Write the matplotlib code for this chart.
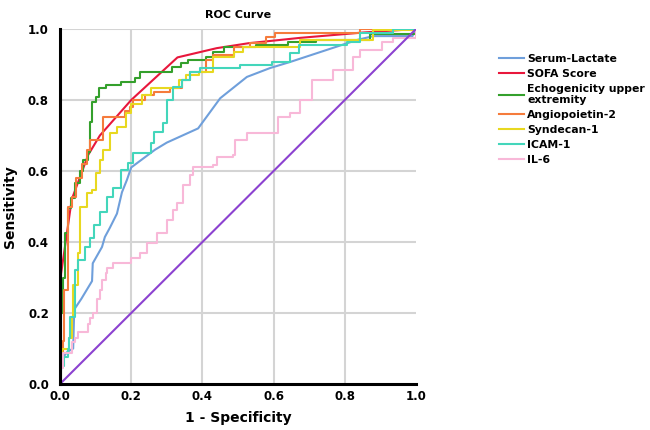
import matplotlib.pyplot as plt

# ROC curve vertices (1 - specificity, sensitivity)
lactate_x = [0, 0.005, 0.02, 0.037, 0.04, 0.06, 0.084, 0.09, 0.092, 0.118, 0.126, 0.14, 0.16,
             0.174, 0.188, 0.2, 0.267, 0.30, 0.388, 0.45, 0.525, 0.59, 0.646, 0.834, 0.88, 0.99, 1.0]
lactate_y = [0, 0.07, 0.09, 0.10, 0.21, 0.24, 0.28, 0.29, 0.34, 0.386, 0.414, 0.44, 0.48,
             0.54, 0.575, 0.61, 0.66, 0.68, 0.72, 0.805, 0.865, 0.89, 0.907, 0.969, 0.98, 0.98, 1.0]

sofa_x = [0, 0.003, 0.033, 0.079, 0.112, 0.2, 0.33, 0.44, 0.53, 0.674, 0.85, 1.0]
sofa_y = [0, 0.31, 0.52, 0.645, 0.70, 0.80, 0.92, 0.946, 0.96, 0.975, 0.99, 1.0]

echo_x = [0, 0.003, 0.008, 0.014, 0.022, 0.03, 0.042, 0.055, 0.065, 0.079, 0.084, 0.09, 0.1, 0.11,
          0.13, 0.17, 0.21, 0.225, 0.315, 0.34, 0.36, 0.41, 0.43, 0.46, 0.55, 0.64, 0.72, 0.87, 1.0]
echo_y = [0, 0.2, 0.3, 0.425, 0.496, 0.524, 0.566, 0.60, 0.63, 0.653, 0.738, 0.794, 0.808, 0.834,
          0.842, 0.85, 0.862, 0.879, 0.893, 0.905, 0.913, 0.92, 0.935, 0.95, 0.955, 0.963, 0.969, 0.985, 1.0]

ang_x = [0, 0.0, 0.008, 0.012, 0.023, 0.034, 0.045, 0.062, 0.076, 0.084, 0.121, 0.183, 0.197, 0.205,
         0.24, 0.265, 0.31, 0.343, 0.365, 0.41, 0.43, 0.49, 0.534, 0.58, 0.604, 0.843, 1.0]
ang_y = [0, 0.05, 0.12, 0.265, 0.5, 0.527, 0.58, 0.62, 0.66, 0.687, 0.752, 0.77, 0.78, 0.80,
         0.814, 0.823, 0.834, 0.856, 0.879, 0.913, 0.927, 0.95, 0.96, 0.977, 0.99, 1.0, 1.0]

synd_x = [0, 0.0, 0.005, 0.025, 0.034, 0.037, 0.05, 0.056, 0.076, 0.09, 0.1, 0.112, 0.121, 0.14,
          0.16, 0.185, 0.2, 0.23, 0.255, 0.335, 0.355, 0.39, 0.43, 0.49, 0.514, 0.674, 0.88, 1.0]
synd_y = [0, 0.076, 0.10, 0.13, 0.19, 0.28, 0.37, 0.5, 0.538, 0.547, 0.594, 0.63, 0.66, 0.707,
          0.724, 0.763, 0.79, 0.814, 0.834, 0.856, 0.87, 0.879, 0.921, 0.935, 0.95, 0.969, 0.997, 1.0]

icam_x = [0, 0.0, 0.01, 0.022, 0.026, 0.028, 0.042, 0.05, 0.07, 0.084, 0.095, 0.112, 0.132, 0.15,
          0.17, 0.19, 0.205, 0.255, 0.265, 0.29, 0.30, 0.317, 0.343, 0.365, 0.393, 0.505, 0.595,
          0.646, 0.67, 0.806, 0.843, 0.935, 1.0]
icam_y = [0, 0.05, 0.076, 0.10, 0.13, 0.19, 0.32, 0.35, 0.386, 0.41, 0.448, 0.485, 0.527, 0.552,
          0.603, 0.622, 0.65, 0.679, 0.71, 0.735, 0.80, 0.837, 0.856, 0.879, 0.89, 0.899, 0.907,
          0.932, 0.955, 0.963, 0.989, 1.0, 1.0]

il6_x = [0, 0.0, 0.008, 0.034, 0.042, 0.05, 0.079, 0.084, 0.093, 0.104, 0.112, 0.118, 0.128, 0.132,
         0.149, 0.2, 0.225, 0.244, 0.272, 0.3, 0.317, 0.33, 0.345, 0.365, 0.374, 0.43, 0.44, 0.486,
         0.492, 0.525, 0.612, 0.646, 0.674, 0.708, 0.767, 0.823, 0.843, 0.904, 0.935, 1.0]
il6_y = [0, 0.045, 0.087, 0.118, 0.13, 0.147, 0.17, 0.186, 0.2, 0.24, 0.265, 0.293, 0.313, 0.327,
         0.341, 0.355, 0.369, 0.397, 0.425, 0.462, 0.49, 0.51, 0.56, 0.589, 0.611, 0.617, 0.64, 0.645,
         0.687, 0.707, 0.752, 0.763, 0.80, 0.856, 0.885, 0.921, 0.94, 0.963, 0.975, 1.0]

ref_x = [0, 1]
ref_y = [0, 1]

ticks = [0.0, 0.2, 0.4, 0.6, 0.8, 1.0]

fig = plt.figure(figsize=(6.5, 4.3), dpi=100)
ax = fig.add_axes([60 / 650, 1 - 384 / 430, 356 / 650, 355 / 430])

for t in ticks[1:-1]:
    ax.axvline(t, color="#d4d4d4", lw=1.5, zorder=0)
for t in ticks[1:]:
    ax.axhline(t, color="#d4d4d4", lw=1.5, zorder=0)

lw = 1.5
ax.plot(lactate_x, lactate_y, color="#6f9fdb", lw=lw, label="Serum-Lactate")
ax.plot(sofa_x, sofa_y, color="#e8173c", lw=lw, label="SOFA Score")
ax.plot(echo_x, echo_y, color="#34a02c", lw=lw, drawstyle="steps-post",
        label="Echogenicity upper\nextremity")
ax.plot(ang_x, ang_y, color="#f57b3c", lw=lw, drawstyle="steps-post", label="Angiopoietin-2")
ax.plot(synd_x, synd_y, color="#e8d820", lw=lw, drawstyle="steps-post", label="Syndecan-1")
ax.plot(icam_x, icam_y, color="#43d6bb", lw=lw, drawstyle="steps-post", label="ICAM-1")
ax.plot(il6_x, il6_y, color="#f8b8d8", lw=lw, drawstyle="steps-post", label="IL-6")
ax.plot(ref_x, ref_y, color="#8c42d0", lw=lw)

ax.set_xlim(0, 1)
ax.set_ylim(0, 1)
ax.set_xticks(ticks)
ax.set_yticks(ticks)
ax.set_xticklabels([f"{t:.1f}" for t in ticks], fontweight="bold", fontsize=8.5)
ax.set_yticklabels([f"{t:.1f}" for t in ticks], fontweight="bold", fontsize=8.5)
ax.tick_params(axis="x", length=0, pad=4)
ax.tick_params(axis="y", length=0, pad=8)

for s in ["top", "right"]:
    ax.spines[s].set_visible(False)
for s in ["left", "bottom"]:
    ax.spines[s].set_linewidth(2.2)
    ax.spines[s].set_color("black")

ax.set_title("ROC Curve", fontsize=8, fontweight="bold", pad=8)
ax.set_xlabel("1 - Specificity", fontsize=10, fontweight="bold", labelpad=6)
ax.set_ylabel("Sensitivity", fontsize=10, fontweight="bold", labelpad=8)

fig.legend(loc="upper left", bbox_to_anchor=(499 / 650, 1 - 54 / 430), frameon=False,
           prop={"weight": "bold", "size": 7.8}, handlelength=2.3, handletextpad=0.3,
           labelspacing=0.45, borderpad=0, borderaxespad=0)

fig.savefig("out.png", dpi=100)
